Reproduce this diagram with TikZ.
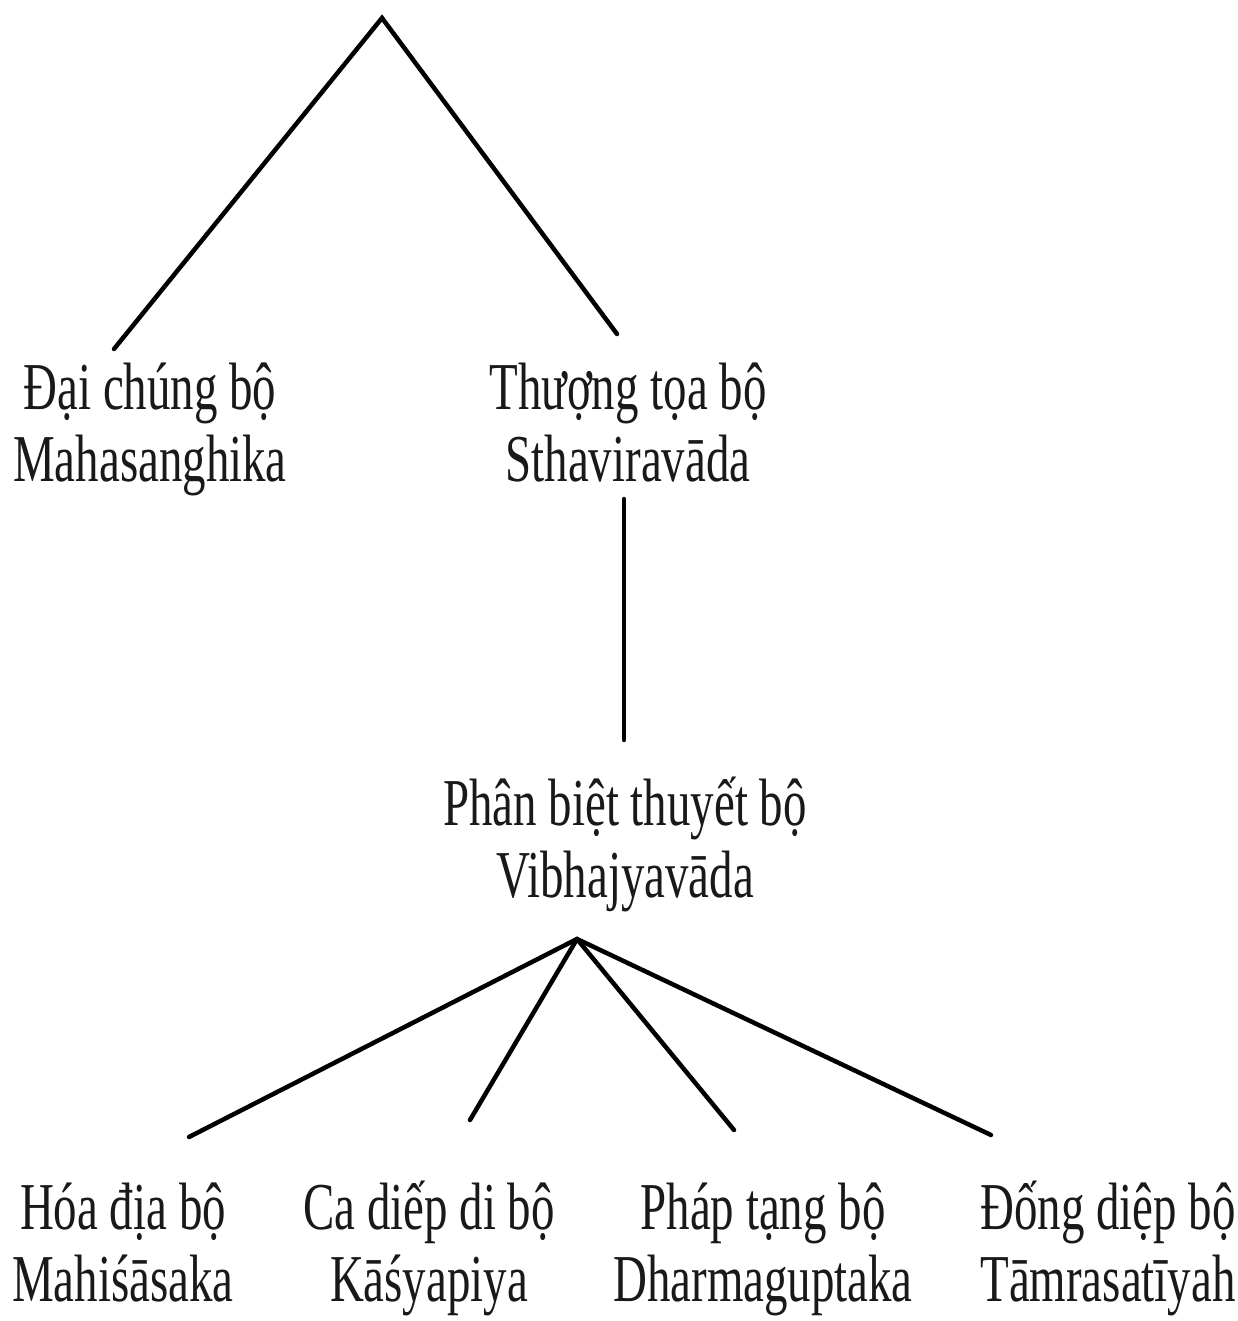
\documentclass[tikz,border=0pt]{standalone}
\usepackage{fontspec}
\newfontfamily\cond[FakeStretch=0.70]{Liberation Serif}
\tikzset{
  lbl/.style={anchor=north, inner sep=0pt, align=center,
    font=\cond\fontsize{67}{72}\selectfont, text=black!90},
  edge/.style={line width=4.5pt, line cap=round, black}
}
\newcommand{\ls}{\rule{0pt}{62pt}}
\begin{document}
\begin{tikzpicture}[x=1pt,y=-1pt]
\useasboundingbox (0,0) rectangle (1237,1321);
% label nodes (anchor north = baseline of first line - 62)
\node[lbl] (dai) at (150,347) {\ls Đại chúng bộ\\Mahasanghika};
\node[lbl] (thuong) at (628,347) {\ls Thượng tọa bộ\\Sthaviravāda};
\node[lbl] (phan) at (625,763) {\ls Phân biệt thuyết bộ\\Vibhajyavāda};
\node[lbl] (hoa) at (123,1167) {\ls Hóa địa bộ\\Mahiśāsaka};
\node[lbl] (ca) at (429,1167) {\ls Ca diếp di bộ\\Kāśyapiya};
\node[lbl] (phap) at (763,1167) {\ls Pháp tạng bộ\\Dharmaguptaka};
\node[lbl] (dong) at (1108,1167) {\ls Đống diệp bộ\\Tāmrasatīyah};
% connector end points
\coordinate (root) at (382,18);
\coordinate (daiT) at (114,349);
\coordinate (thuongT) at (617,334);
\coordinate (thuongB) at (624,499);
\coordinate (phanT) at (624,740);
\coordinate (phanB) at (577,939);
\coordinate (hoaT) at (189,1137);
\coordinate (caT) at (470,1120);
\coordinate (phapT) at (734,1130);
\coordinate (dongT) at (991,1135);
\draw[edge] (daiT) -- (root) -- (thuongT);
\draw[edge] (thuongB) -- (phanT);
\draw[edge] (phanB) -- (hoaT);
\draw[edge] (phanB) -- (caT);
\draw[edge] (phanB) -- (phapT);
\draw[edge] (phanB) -- (dongT);
\end{tikzpicture}
\end{document}
